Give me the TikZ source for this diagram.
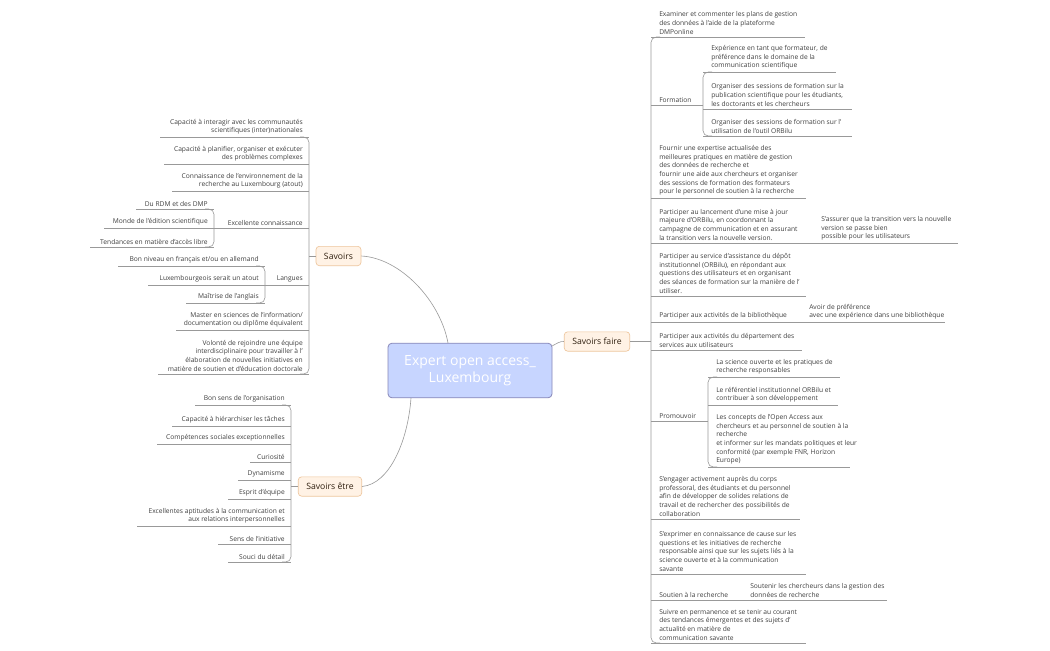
\documentclass[tikz,border=0pt]{standalone}
\usepackage{fontspec}
\setmainfont{Open Sans}
\begin{document}
\begin{tikzpicture}[x=0.75pt,y=-0.75pt,
  ln/.style={draw=black!40,line width=0.45pt},
  txt/.style={inner sep=0pt,font=\fontsize{5}{6.45}\selectfont,text=black!75},
  mainbox/.style={draw=black!20!blue!35!gray!70,fill=blue!20!cyan!8!white!85!blue,rounded corners=3pt,line width=0.6pt,text=white,font=\fontsize{10.5}{12.5}\selectfont,align=center,minimum width=123pt,minimum height=41pt},
  subbox/.style={draw=orange!40!brown!45,fill=orange!10!white,rounded corners=2.5pt,line width=0.5pt,text=black!75!brown,font=\fontsize{6.5}{8}\selectfont,minimum height=14.5pt,inner xsep=6pt}]
\newcommand\lfR[5]{\node[txt,anchor=south west,align=left] (#1) at (#2+8,#4-2.5) {#5};\draw[ln] (#2,#4)--(#3,#4);}
\newcommand\lfL[5]{\node[txt,anchor=south east,align=right] (#1) at (#3-6,#4-2.5) {#5};\draw[ln] (#2,#4)--(#3,#4);}
\useasboundingbox (0,0) rectangle (1050,650);
\fill[white] (0,0) rectangle (1050,650);
% center
\node[mainbox] (c) at (470,370.5) {Expert open access\_\\Luxembourg};
\node[subbox] (sv) at (338.5,256) {Savoirs};
\node[subbox] (se) at (330,486.5) {Savoirs être};
\node[subbox] (sf) at (597,341.5) {Savoirs faire};
\draw[ln] (sv.east) .. controls (400,258) and (440,300) .. (448,343);
\draw[ln] (se.east) .. controls (390,484) and (408,440) .. (411,398);
\draw[ln] (sf.west) .. controls (560,341) and (556,344) .. (552,346);
% ---------- Savoirs faire
\draw[ln] (sf.east)--(651,341.5);
\draw[ln,rounded corners=4pt] (660,37)--(651,37)--(651,643)--(660,643);
\lfR{r1}{651}{805}{37}{Examiner et commenter les plans de gestion\\des données à l'aide de la plateforme\\DMPonline}
\lfR{r2}{651}{703}{105}{Formation}
\draw[ln,rounded corners=4pt] (712,72)--(703,72)--(703,136)--(712,136);
\lfR{r21}{703}{836}{72}{Expérience en tant que formateur, de\\préférence dans le domaine de la\\communication scientifique}
\lfR{r22}{703}{852}{109}{Organiser des sessions de formation sur la\\publication scientifique pour les étudiants,\\les doctorants et les chercheurs}
\lfR{r23}{703}{852}{136}{Organiser des sessions de formation sur l'\\utilisation de l'outil ORBilu}
\lfR{r3}{651}{806}{198}{Fournir une expertise actualisée des\\meilleures pratiques en matière de gestion\\des données de recherche et\\fournir une aide aux chercheurs et organiser\\des sessions de formation des formateurs\\pour le personnel de soutien à la recherche}
\lfR{r4}{651}{958}{243}{Participer au lancement d'une mise à jour\\majeure d'ORBilu, en coordonnant la\\campagne de communication et en assurant\\la transition vers la nouvelle version.}
\node[txt,anchor=south west,align=left] (r41) at (821,240.5) {S'assurer que la transition vers la nouvelle\\version se passe bien\\possible pour les utilisateurs};
\lfR{r5}{651}{806}{296}{Participer au service d'assistance du dépôt\\institutionnel (ORBilu), en répondant aux\\questions des utilisateurs et en organisant\\des séances de formation sur la manière de l'\\utiliser.}
\lfR{r6}{651}{945}{322}{Participer aux activités de la bibliothèque}
\node[txt,anchor=south west,align=left] (r61) at (809,319.5) {Avoir de préférence\\avec une expérience dans une bibliothèque};
\lfR{r7}{651}{802}{350}{Participer aux activités du département des\\services aux utilisateurs}
\lfR{r8}{651}{708}{421}{Promouvoir}
\draw[ln,rounded corners=4pt] (717,377)--(708,377)--(708,467)--(717,467);
\lfR{r81}{708}{840}{377}{La science ouverte et les pratiques de\\recherche responsables}
\lfR{r82}{708}{838}{405}{Le référentiel institutionnel ORBilu et\\contribuer à son développement}
\lfR{r83}{708}{850}{467}{Les concepts de l'Open Access aux\\chercheurs et au personnel de soutien à la\\recherche\\et informer sur les mandats politiques et leur\\conformité (par exemple FNR, Horizon\\Europe)}
\lfR{r9}{651}{800}{519}{S'engager activement auprès du corps\\professoral, des étudiants et du personnel\\afin de développer de solides relations de\\travail et de rechercher des possibilités de\\collaboration}
\lfR{r10}{651}{806}{574}{S'exprimer en connaissance de cause sur les\\questions et les initiatives de recherche\\responsable ainsi que sur les sujets liés à la\\science ouverte et à la communication\\savante}
\lfR{r11}{651}{887}{600}{Soutien à la recherche}
\node[txt,anchor=south west,align=left] (r111) at (750,597.5) {Soutenir les chercheurs dans la gestion des\\données de recherche};
\lfR{r12}{651}{806}{643}{Suivre en permanence et se tenir au courant\\des tendances émergentes et des sujets d'\\actualité en matière de\\communication savante}
% ---------- Savoirs
\draw[ln] (sv.west)--(309,256);
\draw[ln,rounded corners=4pt] (300,137)--(309,137)--(309,374)--(300,374);
\lfL{l1}{160}{309}{137}{Capacité à interagir avec les communautés\\scientifiques (inter)nationales}
\lfL{l2}{164}{309}{164}{Capacité à planifier, organiser et exécuter\\des problèmes complexes}
\lfL{l3}{172}{309}{191}{Connaissance de l'environnement de la\\recherche au Luxembourg (atout)}
\lfL{l4}{214}{309}{228}{Excellente connaissance}
\draw[ln,rounded corners=4pt] (205,209)--(214,209)--(214,247)--(205,247);
\lfL{l41}{136}{214}{209}{Du RDM et des DMP}
\lfL{l42}{104}{214}{228}{Monde de l'édition scientifique}
\lfL{l43}{90}{214}{247}{Tendances en matière d'accès libre}
\lfL{l5}{265}{309}{285}{Langues}
\draw[ln,rounded corners=4pt] (256,266)--(265,266)--(265,303)--(256,303);
\lfL{l51}{118}{265}{266}{Bon niveau en français et/ou en allemand}
\lfL{l52}{148}{265}{285}{Luxembourgeois serait un atout}
\lfL{l53}{186}{265}{303}{Maîtrise de l'anglais}
\lfL{l6}{176}{309}{330}{Master en sciences de l'information/\\documentation ou diplôme équivalent}
\lfL{l7}{158}{309}{374}{Volonté de rejoindre une équipe\\interdisciplinaire pour travailler à l'\\élaboration de nouvelles initiatives en\\matière de soutien et d'éducation doctorale}
% ---------- Savoirs être
\draw[ln] (se.west)--(291,486.5);
\draw[ln,rounded corners=4pt] (282,405)--(291,405)--(291,562)--(282,562);
\lfL{e1}{195}{291}{405}{Bon sens de l'organisation}
\lfL{e2}{172}{291}{426}{Capacité à hiérarchiser les tâches}
\lfL{e3}{157}{291}{444}{Compétences sociales exceptionnelles}
\lfL{e4}{250}{291}{462}{Curiosité}
\lfL{e5}{238}{291}{480}{Dynamisme}
\lfL{e6}{228}{291}{499}{Esprit d'équipe}
\lfL{e7}{137}{291}{526}{Excellentes aptitudes à la communication et\\aux relations interpersonnelles}
\lfL{e8}{218}{291}{544}{Sens de l'initiative}
\lfL{e9}{228}{291}{562}{Souci du détail}
\end{tikzpicture}
\end{document}
